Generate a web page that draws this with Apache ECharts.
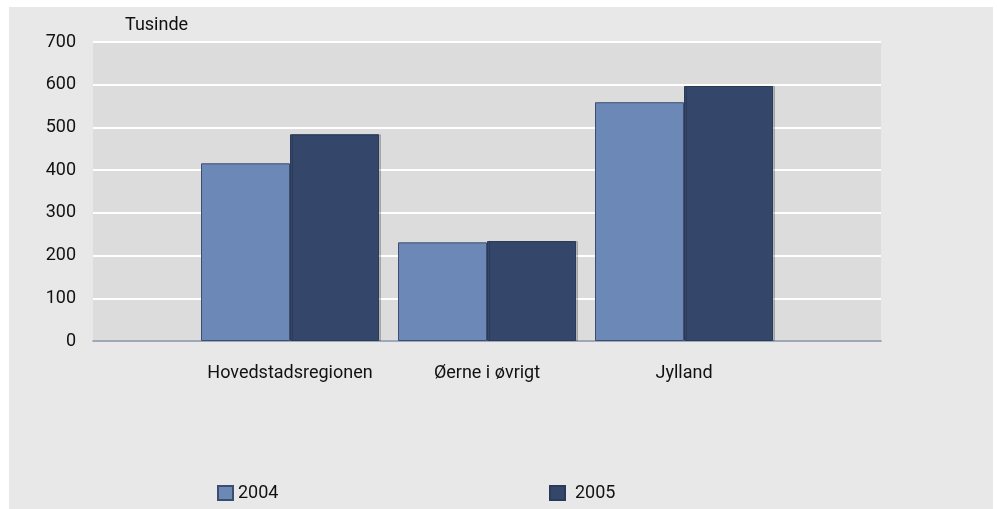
<!DOCTYPE html>
<html>
<head>
<meta charset="utf-8">
<script src="https://cdn.jsdelivr.net/npm/echarts@6/dist/echarts.min.js"></script>
<style>
  html, body { margin: 0; padding: 0; background: #ffffff; }
  #chart { width: 997px; height: 509px; }
</style>
</head>
<body>
<div id="chart"></div>
<script>
// Tusinde (thousands)
const regions = ["Hovedstadsregionen", "Øerne i øvrigt", "Jylland"];
const values2004 = [416, 231, 559];
const values2005 = [484, 234, 597];
const yTicks = [0, 100, 200, 300, 400, 500, 600, 700];

const font = "Roboto, 'Noto Sans', sans-serif";
const fontSize = 18;

// empty slots on both sides so the bars sit on the inner ticks
const axisData = ["", ...regions, ""];
const pad = (arr) => [null, ...arr, null];

const chart = echarts.init(document.getElementById("chart"), null, { renderer: "canvas" });
chart.setOption({
  animation: false,
  backgroundColor: "#ffffff",
  textStyle: { fontFamily: font, color: "#111111" },
  graphic: [
    {
      type: "rect",
      z: -10,
      shape: { x: 9, y: 7, width: 984, height: 502 },
      style: { fill: "#e8e8e8" },
    },
    {
      type: "text",
      left: 125,
      top: 16,
      style: { text: "Tusinde", font: `${fontSize}px ${font}`, fill: "#111111" },
    },
  ],
  grid: {
    left: 93,
    right: 116,
    top: 42,
    bottom: 168,
    show: true,
    backgroundColor: "#dcdcdc",
    borderWidth: 0,
  },
  legend: [
    {
      data: ["2004"],
      left: 217,
      top: 484,
      padding: 0,
      itemWidth: 15,
      itemHeight: 14,
      icon: "rect",
      textStyle: { fontFamily: font, fontSize: fontSize, color: "#111111" },
    },
    {
      data: ["2005"],
      left: 549,
      top: 484,
      padding: 0,
      itemWidth: 15,
      itemHeight: 14,
      icon: "rect",
      textStyle: { fontFamily: font, fontSize: fontSize, color: "#111111", padding: [0, 0, 0, 5] },
    },
  ],
  xAxis: {
    type: "category",
    data: axisData,
    boundaryGap: false,
    axisLine: { show: true, lineStyle: { color: "#7d8ca4", width: 1.5 } },
    axisTick: { show: false },
    axisLabel: { fontFamily: font, fontSize: fontSize, color: "#111111", margin: 23, interval: 0 },
    splitLine: { show: false },
  },
  yAxis: {
    type: "value",
    min: yTicks[0],
    max: yTicks[yTicks.length - 1],
    interval: 100,
    axisLine: { show: false },
    axisTick: { show: false },
    axisLabel: { fontFamily: font, fontSize: fontSize, color: "#111111", margin: 17 },
    splitLine: { show: true, lineStyle: { color: "#ffffff", width: 2 } },
  },
  series: [
    {
      name: "2004",
      type: "bar",
      data: pad(values2004),
      barWidth: 89,
      barGap: "0%",
      itemStyle: { color: "#6b88b6", borderColor: "#3c4d6e", borderWidth: 1 },
    },
    {
      name: "2005",
      type: "bar",
      data: pad(values2005),
      barWidth: 89,
      barGap: "0%",
      itemStyle: {
        color: "#34476b",
        borderColor: "#2a3a58",
        borderWidth: 1,
        shadowColor: "rgba(0,0,0,0.18)",
        shadowOffsetX: 2,
        shadowBlur: 0,
      },
    },
  ],
});
</script>
</body>
</html>
